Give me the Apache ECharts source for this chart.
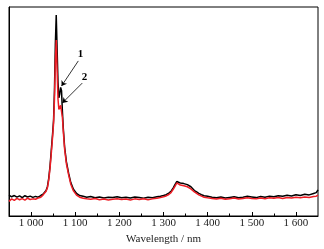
<!DOCTYPE html>
<html>
<head>
<meta charset="utf-8">
<script src="https://cdn.jsdelivr.net/npm/echarts@6/dist/echarts.min.js"></script>
<style>
  html, body { margin: 0; padding: 0; background: #fff; }
  #chart { width: 324px; height: 249px; }
</style>
</head>
<body>
<div id="chart"></div>
<script>
// wavelength (nm)
var wavelengths = [
  950, 956, 962, 968, 974, 980, 986, 992, 998, 1004,
  1010, 1016, 1022, 1027, 1031, 1034, 1037, 1040, 1043, 1046,
  1049, 1051, 1053, 1055, 1057, 1059, 1061, 1063, 1065, 1067,
  1069, 1071, 1073, 1076, 1080, 1085, 1090, 1096, 1103, 1110,
  1118, 1126, 1135, 1145, 1155, 1165, 1175, 1185, 1195, 1205,
  1215, 1225, 1235, 1245, 1255, 1265, 1275, 1285, 1293, 1300,
  1306, 1312, 1317, 1322, 1326, 1330, 1334, 1338, 1342, 1346,
  1350, 1354, 1358, 1362, 1366, 1370, 1375, 1380, 1386, 1392,
  1400, 1410, 1420, 1430, 1440, 1450, 1460, 1470, 1480, 1490,
  1500, 1510, 1520, 1530, 1540, 1550, 1560, 1570, 1580, 1590,
  1600, 1610, 1620, 1630, 1640, 1646, 1650
]
// curve 1 (black)
var curve1 = [
  0.100, 0.092, 0.098, 0.090, 0.096, 0.088, 0.097, 0.091, 0.095, 0.089,
  0.094, 0.090, 0.098, 0.104, 0.112, 0.122, 0.140, 0.180, 0.240, 0.320,
  0.400, 0.460, 0.600, 0.820, 0.962, 0.800, 0.640, 0.565, 0.585, 0.615,
  0.600, 0.500, 0.420, 0.330, 0.260, 0.205, 0.160, 0.128, 0.108, 0.098,
  0.094, 0.090, 0.093, 0.087, 0.091, 0.086, 0.090, 0.088, 0.092, 0.087,
  0.090, 0.086, 0.091, 0.088, 0.085, 0.090, 0.087, 0.092, 0.095, 0.098,
  0.102, 0.110, 0.118, 0.135, 0.150, 0.165, 0.163, 0.158, 0.160, 0.155,
  0.153, 0.150, 0.146, 0.140, 0.132, 0.122, 0.115, 0.108, 0.102, 0.097,
  0.094, 0.090, 0.087, 0.091, 0.086, 0.089, 0.092, 0.087, 0.090, 0.094,
  0.091, 0.088, 0.093, 0.090, 0.095, 0.092, 0.097, 0.094, 0.099, 0.096,
  0.102, 0.098, 0.104, 0.101, 0.108, 0.112, 0.125
]
// curve 2 (red)
var curve2 = [
  0.070, 0.082, 0.075, 0.084, 0.078, 0.083, 0.076, 0.085, 0.079, 0.082,
  0.080, 0.086, 0.090, 0.100, 0.108, 0.118, 0.135, 0.172, 0.230, 0.305,
  0.385, 0.445, 0.560, 0.740, 0.842, 0.700, 0.560, 0.510, 0.515, 0.530,
  0.525, 0.470, 0.405, 0.320, 0.250, 0.198, 0.152, 0.120, 0.100, 0.090,
  0.085, 0.082, 0.080, 0.084, 0.078, 0.081, 0.077, 0.080, 0.083, 0.079,
  0.081, 0.077, 0.082, 0.079, 0.083, 0.078, 0.082, 0.085, 0.088, 0.092,
  0.096, 0.103, 0.112, 0.128, 0.142, 0.158, 0.155, 0.148, 0.150, 0.145,
  0.142, 0.140, 0.136, 0.130, 0.123, 0.115, 0.108, 0.101, 0.095, 0.090,
  0.087, 0.084, 0.081, 0.085, 0.080, 0.083, 0.086, 0.081, 0.084, 0.087,
  0.084, 0.082, 0.086, 0.083, 0.087, 0.085, 0.088, 0.084, 0.089, 0.086,
  0.090, 0.087, 0.091, 0.089, 0.093, 0.095, 0.100
]
var majorTicks = [1000, 1100, 1200, 1300, 1400, 1500, 1600]
var minorTicks = [1050, 1150, 1250, 1350, 1450, 1550]

var myChart = echarts.init(document.getElementById('chart'))
var serif = 'Liberation Serif'

function pairs (ys) {
  return wavelengths.map(function (x, i) { return [x, ys[i]] })
}

var option = {
  backgroundColor: '#fff',
  animation: false,
  grid: {
    left: 9,
    right: 6,
    top: 7,
    bottom: 33,
    outerBoundsMode: 'none',
    containLabel: false,
    show: true,
    borderColor: '#000',
    borderWidth: 1,
    backgroundColor: 'transparent'
  },
  xAxis: [{
    type: 'value',
    min: 950,
    max: 1650,
    name: 'Wavelength / nm',
    nameLocation: 'middle',
    nameGap: 14,
    nameTextStyle: { fontFamily: serif, fontSize: 11, color: '#222', verticalAlign: 'top' },
    axisLine: { show: true, lineStyle: { color: '#000', width: 1 } },
    axisTick: {
      show: true,
      inside: true,
      length: 4,
      customValues: majorTicks,
      lineStyle: { color: '#000', width: 1 }
    },
    axisLabel: {
      customValues: majorTicks,
      margin: 2,
      fontFamily: serif,
      fontSize: 11,
      color: '#222',
      formatter: function (v) {
        return String(v).replace(/\B(?=(\d{3})+(?!\d))/g, ' ')
      }
    },
    splitLine: { show: false }
  }, {
    type: 'value',
    position: 'bottom',
    min: 950,
    max: 1650,
    axisLine: { show: false },
    axisTick: {
      show: true,
      inside: true,
      length: 2.5,
      customValues: minorTicks,
      lineStyle: { color: '#000', width: 1 }
    },
    axisLabel: { show: false },
    splitLine: { show: false }
  }],
  yAxis: {
    type: 'value',
    min: 0,
    max: 1,
    axisLine: { show: true, lineStyle: { color: '#000' } },
    axisTick: { show: false },
    axisLabel: { show: false },
    splitLine: { show: false }
  },
  series: [{
    name: '1',
    type: 'line',
    showSymbol: false,
    symbol: 'none',
    lineStyle: { color: '#000', width: 1.5 },
    data: pairs(curve1),
    markLine: {
      silent: true,
      symbol: ['none', 'arrow'],
      symbolSize: 5,
      label: { show: false },
      lineStyle: { color: '#000', width: 0.8, type: 'solid' },
      data: [
        [{ coord: [1107, 0.742] }, { coord: [1069, 0.622] }],
        [{ coord: [1116, 0.636] }, { coord: [1071, 0.541] }]
      ]
    },
    markPoint: {
      silent: true,
      symbol: 'circle',
      symbolSize: 1,
      itemStyle: { color: 'rgba(0,0,0,0)' },
      label: {
        show: true,
        position: 'inside',
        fontFamily: serif,
        fontWeight: 'bold',
        fontSize: 11,
        color: '#000',
        formatter: '{b}'
      },
      data: [
        { name: '1', coord: [1112, 0.775] },
        { name: '2', coord: [1121, 0.665] }
      ]
    }
  }, {
    name: '2',
    type: 'line',
    showSymbol: false,
    symbol: 'none',
    lineStyle: { color: '#ee1c24', width: 1.5 },
    data: pairs(curve2)
  }]
}

myChart.setOption(option, true)
</script>
</body>
</html>
